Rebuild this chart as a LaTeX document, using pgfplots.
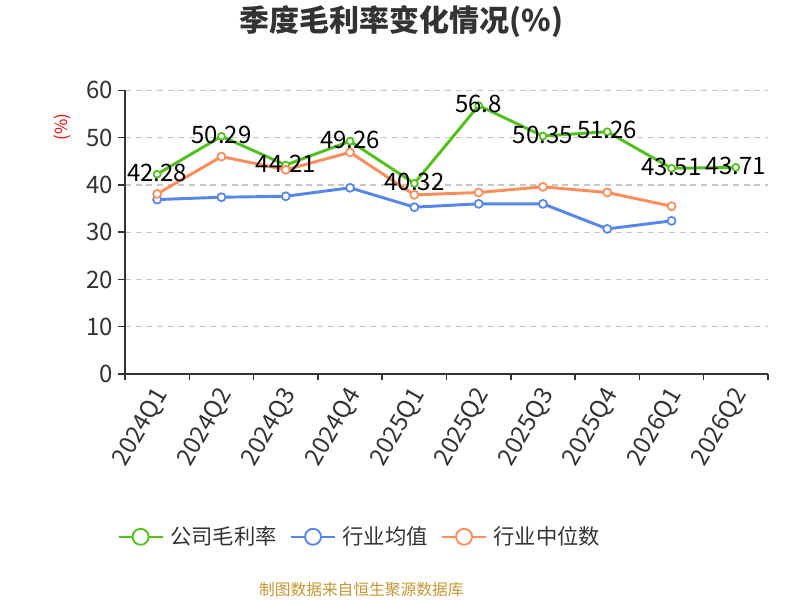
\documentclass[border=0pt]{standalone}
\usepackage{pgfplots}
\pgfplotsset{compat=1.18}
\usepackage{fontspec}
\setmainfont{Noto Sans CJK SC}
\definecolor{cgreen}{RGB}{82,192,26}
\definecolor{cblue}{RGB}{86,134,236}
\definecolor{corange}{RGB}{255,140,90}
\definecolor{cfoot}{RGB}{200,150,50}
\definecolor{ctext}{RGB}{51,51,51}
\begin{document}
\begin{tikzpicture}
\path[use as bounding box] (0,0) rectangle (600pt,450pt);
\node[font=\fontsize{22.5}{26}\selectfont\bfseries, text=ctext] at (301pt,434pt) {季度毛利率变化情况(\%)};
\begin{axis}[
  at={(93.75pt,169.5pt)}, anchor=south west,
  scale only axis, width=482.25pt, height=212.7pt,
  xmin=-0.5, xmax=9.5, ymin=0, ymax=60,
  ytick={0,10,...,60},
  xtick={0,...,9},
  xticklabels={2024Q1,2024Q2,2024Q3,2024Q4,2025Q1,2025Q2,2025Q3,2025Q4,2026Q1,2026Q2},
  minor xtick={-0.5,0.5,...,9.5},
  major x tick style={draw=none},
  minor tick length=4.5pt,
  major tick length=5.25pt,
  tick align=outside,
  axis x line*=bottom, axis y line*=left,
  axis line style={draw=ctext, line width=1.1pt, -},
  tick style={draw=ctext, line width=1.1pt},
  ymajorgrids,
  major y grid style={draw=black!22, line width=0.9pt, dash pattern=on 4.5pt off 3.5pt},
  /pgf/number format/assume math mode=true,
  tick label style={font=\fontsize{18}{21}\selectfont, text=ctext},
  xticklabel style={rotate=60, anchor=east, yshift=-7pt, xshift=-1pt},
  ylabel={(\%)},
  ylabel style={at={(rel axis cs:-0.098,0.87)}, anchor=center, text=red, font=\fontsize{12.5}{15}\selectfont},
  legend style={at={(rel axis cs:0.366,-0.574)}, anchor=center, legend columns=3, draw=none, fill=none,
    font=\fontsize{16}{19}\selectfont, text=ctext,
    /tikz/every odd column/.append style={column sep=3pt},
    /tikz/every even column/.append style={column sep=8pt}},
  legend image code/.code={
    \draw[#1, line width=1.3pt] (0pt,0pt) -- (33pt,0pt);
    \draw[#1, line width=1.4pt, fill=white] (16.5pt,0pt) circle (6pt);
  },
]
\addplot[cgreen, line width=2.2pt, mark=*, mark size=2.6pt, mark options={fill=white, line width=1.3pt},
  nodes near coords, point meta=explicit symbolic,
  every node near coord/.append style={anchor=center, yshift=1pt, font=\fontsize{18}{21}\selectfont, text=black}]
  coordinates {(0,42.28)[42.28] (1,50.29)[50.29] (2,44.21)[44.21] (3,49.26)[49.26] (4,40.32)[40.32]
               (5,56.8)[56.8] (6,50.35)[50.35] (7,51.26)[51.26] (8,43.51)[43.51] (9,43.71)[43.71]};
\addlegendentry{公司毛利率}
\addplot[cblue, line width=2.2pt, mark=*, mark size=3pt, mark options={fill=white, line width=1.3pt}]
  coordinates {(0,36.9) (1,37.4) (2,37.6) (3,39.4) (4,35.3) (5,36.0) (6,36.0) (7,30.7) (8,32.4)};
\addlegendentry{行业均值}
\addplot[corange, line width=2.2pt, mark=*, mark size=3pt, mark options={fill=white, line width=1.3pt}]
  coordinates {(0,38.1) (1,46.0) (2,43.2) (3,46.9) (4,37.9) (5,38.4) (6,39.6) (7,38.4) (8,35.5)};
\addlegendentry{行业中位数}
\end{axis}
\node[font=\fontsize{11.8}{14}\selectfont, text=cfoot] at (271pt,7.5pt) {制图数据来自恒生聚源数据库};
\end{tikzpicture}
\end{document}
